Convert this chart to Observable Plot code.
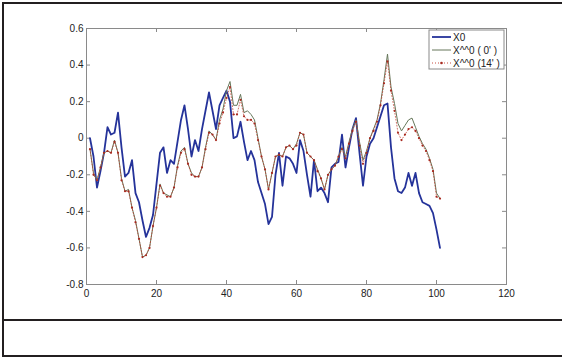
<!DOCTYPE html>
<html>
<head>
<meta charset="utf-8">
<script src="https://cdn.jsdelivr.net/npm/d3@7"></script>
<script src="https://cdn.jsdelivr.net/npm/@observablehq/plot@0.6"></script>
<style>
  html, body { margin: 0; padding: 0; background: #fff; }
  #wrap { position: relative; width: 562px; height: 357px; overflow: hidden; font-family: "Liberation Sans", Arial, sans-serif; }
  #chart { position: absolute; left: 0; top: 0; }
  #frame { position: absolute; left: 2px; top: 2px; width: 562px; height: 355px; box-sizing: border-box; border: 2px solid #231f20; pointer-events: none; }
  #sep { position: absolute; left: 2px; top: 319px; width: 560px; height: 2px; background: #231f20; }
</style>
</head>
<body>
<div id="wrap">
  <div id="chart"></div>
  <div id="frame"></div>
  <div id="sep"></div>
</div>
<script>
const xIndex = d3.range(1, 102);
const seriesX0 = [0.00,-0.10,-0.27,-0.18,-0.08,0.06,0.02,0.03,0.14,-0.05,
  -0.21,-0.19,-0.12,-0.30,-0.35,-0.45,-0.54,-0.49,-0.42,-0.25,
  -0.08,-0.05,-0.19,-0.12,-0.14,-0.02,0.10,0.18,0.05,-0.10,
  -0.01,-0.07,0.05,0.15,0.25,0.15,0.05,0.18,0.22,0.26,
  0.20,0.00,0.01,0.09,-0.02,-0.12,-0.07,-0.12,-0.24,-0.30,
  -0.36,-0.47,-0.43,-0.20,-0.08,-0.26,-0.10,-0.11,-0.14,-0.19,
  -0.01,-0.07,-0.20,-0.32,-0.12,-0.29,-0.27,-0.30,-0.35,-0.16,
  -0.14,-0.13,0.02,-0.16,-0.05,0.05,0.11,-0.08,-0.26,-0.10,
  -0.03,0.00,0.06,0.12,0.18,0.19,-0.05,-0.22,-0.29,-0.30,
  -0.27,-0.19,-0.26,-0.19,-0.30,-0.35,-0.36,-0.37,-0.41,-0.50,
  -0.60];
const seriesXh0 = [-0.06,-0.19,-0.23,-0.16,-0.08,-0.07,-0.08,-0.01,-0.08,-0.22,
  -0.29,-0.28,-0.38,-0.45,-0.55,-0.65,-0.64,-0.60,-0.48,-0.38,
  -0.25,-0.30,-0.31,-0.32,-0.27,-0.15,-0.07,-0.05,-0.14,-0.19,
  -0.21,-0.21,-0.16,-0.05,0.04,0.02,-0.01,0.10,0.16,0.26,
  0.31,0.18,0.18,0.24,0.14,0.15,0.13,0.10,0.00,-0.10,
  -0.17,-0.28,-0.19,-0.10,-0.09,-0.10,-0.05,-0.04,-0.06,-0.03,
  0.03,0.02,-0.08,-0.10,-0.12,-0.17,-0.22,-0.28,-0.20,-0.17,
  -0.15,-0.10,-0.05,-0.10,-0.02,0.05,0.10,-0.02,-0.12,-0.07,
  0.00,0.05,0.10,0.19,0.32,0.46,0.28,0.19,0.08,0.04,
  0.07,0.10,0.11,0.06,0.01,-0.03,-0.06,-0.11,-0.17,-0.30,
  -0.33];
const seriesXh14 = [-0.06,-0.20,-0.23,-0.16,-0.08,-0.07,-0.08,-0.02,-0.08,-0.23,
  -0.29,-0.29,-0.38,-0.46,-0.55,-0.65,-0.64,-0.60,-0.48,-0.38,
  -0.26,-0.30,-0.32,-0.32,-0.27,-0.16,-0.08,-0.06,-0.14,-0.20,
  -0.21,-0.21,-0.16,-0.06,0.03,0.02,-0.01,0.08,0.14,0.22,
  0.28,0.13,0.13,0.21,0.12,0.10,0.10,0.08,-0.01,-0.10,
  -0.17,-0.28,-0.19,-0.10,-0.09,-0.10,-0.05,-0.04,-0.06,-0.04,
  0.03,0.02,-0.08,-0.10,-0.12,-0.18,-0.22,-0.28,-0.20,-0.17,
  -0.15,-0.10,-0.06,-0.11,-0.03,0.04,0.09,-0.04,-0.14,-0.08,
  0.00,0.04,0.09,0.18,0.30,0.42,0.26,0.15,0.03,-0.01,
  0.02,0.05,0.06,0.04,0.00,-0.04,-0.07,-0.12,-0.18,-0.32,
  -0.33];
const xTicks = [0, 20, 40, 60, 80, 100, 120];
const yTicks = [-0.8, -0.6, -0.4, -0.2, 0, 0.2, 0.4, 0.6];
const legendLabels = ["X0", "X^^0 ( 0' )", "X^^0 (14' )"];

const blue = "#25339a", green = "#66775a", red = "#c23a2c", dotRed = "#a82a20", axisGray = "#8a8a8a";
const data = xIndex.map((x, i) => ({x, x0: seriesX0[i], g: seriesXh0[i], r: seriesXh14[i]}));
const fmtY = d => d === 0 ? "0" : d.toFixed(1);

const W = 562, H = 320, mL = 86, mR = 56, mT = 28, mB = 36;
const plot = Plot.plot({
  width: W, height: H,
  marginLeft: mL, marginRight: mR, marginTop: mT, marginBottom: mB,
  style: {fontFamily: "'Liberation Sans', Arial, sans-serif", fontSize: "10px", color: "#222", background: "transparent"},
  x: {domain: [0, 120]},
  y: {domain: [-0.8, 0.6]},
  marks: [
    Plot.axisX(xTicks, {anchor: "bottom", tickSize: 0, tickPadding: 5, tickFormat: d => String(d), label: null, fill: "#222"}),
    Plot.axisY(yTicks, {anchor: "left", tickSize: 0, tickPadding: 3, tickFormat: fmtY, label: null, fill: "#222"}),
    Plot.tickX(xTicks, {x: d => d, insetTop: H - mT - mB - 4, stroke: axisGray}),
    Plot.tickX(xTicks, {x: d => d, insetBottom: H - mT - mB - 4, stroke: axisGray}),
    Plot.tickY(yTicks, {y: d => d, insetRight: W - mL - mR - 4, stroke: axisGray}),
    Plot.tickY(yTicks, {y: d => d, insetLeft: W - mL - mR - 4, stroke: axisGray}),
    Plot.frame({stroke: axisGray}),
    Plot.line(data, {x: "x", y: "x0", stroke: blue, strokeWidth: 1.8}),
    Plot.line(data, {x: "x", y: "g", stroke: green, strokeWidth: 1}),
    Plot.line(data, {x: "x", y: "r", stroke: red, strokeWidth: 0.9, strokeDasharray: "1,2", strokeOpacity: 0.8}),
    Plot.dot(data, {x: "x", y: "r", r: 1.1, fill: dotRed, stroke: "none"})
  ]
});
document.getElementById("chart").appendChild(plot);

// legend (MATLAB style box inside the axes)
const svg = d3.select(plot);
const lg = svg.append("g").attr("font-family", "'Liberation Sans', Arial, sans-serif").attr("font-size", "10px").attr("text-anchor", "start");
lg.append("rect").attr("x", 429).attr("y", 30).attr("width", 75).attr("height", 39)
  .attr("fill", "#fff").attr("stroke", axisGray).attr("stroke-width", 1);
const styles = [
  {stroke: blue, width: 1.8, dash: null, dot: false},
  {stroke: green, width: 1, dash: null, dot: false},
  {stroke: red, width: 0.9, dash: "1,2", dot: true}
];
legendLabels.forEach((t, i) => {
  const y = 37 + i * 13;
  const s = styles[i];
  const ln = lg.append("line").attr("x1", 432).attr("x2", 451).attr("y1", y).attr("y2", y)
    .attr("stroke", s.stroke).attr("stroke-width", s.width);
  if (s.dash) ln.attr("stroke-dasharray", s.dash);
  if (s.dot) lg.append("circle").attr("cx", 441.5).attr("cy", y).attr("r", 1.3).attr("fill", dotRed);
  lg.append("text").attr("x", 453).attr("y", y).attr("dy", "0.35em").attr("text-anchor", "start").attr("fill", "#222").text(t);
});
</script>
</body>
</html>
